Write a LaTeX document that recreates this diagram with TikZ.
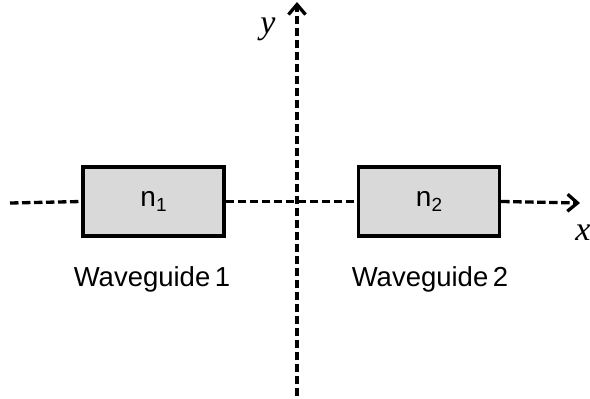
\documentclass[tikz,border=0pt]{standalone}
\usepackage{fontspec}
\setmainfont{Liberation Sans}
\newfontfamily\timesfont{Liberation Serif}
\usetikzlibrary{arrows.meta}
\newcommand{\mysub}[1]{\raisebox{-0.35ex}{\fontsize{19}{19}\selectfont #1}}
\begin{document}
\begin{tikzpicture}[x=1pt,y=-1pt,
  axis/.style={line width=3.3pt, dash pattern=on 8.5pt off 3.5pt},
  axisarrow/.style={axis, -{Straight Barb[length=10pt,width=17pt,line width=3.3pt]}},
  guide/.style={draw=black, line width=3.3pt, fill={rgb,255:red,217;green,217;blue,217},
    minimum width=141pt, minimum height=69pt, inner sep=0pt,
    font=\fontsize{28}{32}\selectfont},
  caption/.style={font=\fontsize{27.5}{32}\selectfont, inner sep=0pt},
  axislabel/.style={font=\fontsize{34}{38}\selectfont\timesfont\itshape, inner sep=0pt}]
\useasboundingbox (0,0) rectangle (590,399);
\coordinate (xs) at (10,203);
\coordinate (xe) at (580,203);
\coordinate (ys) at (297,396);
\coordinate (ye) at (297,2);
\draw[axisarrow] (ys) -- (ye);
\node[guide] (w1) at (153.5,201.5) {n\mysub{1}};
\node[guide] (w2) at (429,201.5) {n\mysub{2}};
\draw[axis] (xs) -- (w1.west);
\draw[axis] (w1.east) -- (w2.west);
\draw[axisarrow] (w2.east) -- (xe);
\node[caption] (c1) at (152,279) {Waveguide\,1};
\node[caption] (c2) at (430,279) {Waveguide\,2};
\node[axislabel] (ly) at (268,29) {y};
\node[axislabel] (lx) at (583,233) {x};
\end{tikzpicture}
\end{document}
